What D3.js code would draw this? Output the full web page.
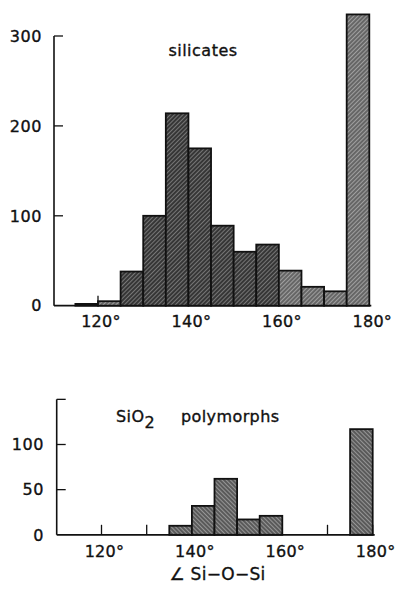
<!DOCTYPE html>
<html><head><meta charset="utf-8">
<script src="https://cdn.jsdelivr.net/npm/d3@7"></script>
<style>
html,body{margin:0;padding:0;background:#fff;}
svg text{font-family:"DejaVu Sans",sans-serif;fill:#111;stroke:#111;stroke-width:0.35px;}
</style></head>
<body><svg id="c" width="398" height="589"></svg>
<script>
// ---- data ----
const binStartsTop = [115,120,125,130,135,140,145,150,155,160,165,170,175];
const silicates    = [2,5,38,100,214,175,89,60,68,39,21,16,324];
const binStartsBot = [135,140,145,150,155,175];
const sio2         = [10,32,62,17,21,117];
const binWidth = 5;
const xTickLabels = [120,140,160,180];
const yTicksTop = [0,100,200,300];
const yTicksBot = [0,50,100];
const titleTop = "silicates";
const axisTitle = "\u2220 Si\u2212O\u2212Si";

const svg = d3.select("#c");
const defs = svg.append("defs");
function hatch(id, bg, line, angle){
  const p = defs.append("pattern").attr("id",id).attr("patternUnits","userSpaceOnUse")
    .attr("width",3).attr("height",3).attr("patternTransform",`rotate(${angle})`);
  p.append("rect").attr("width",3).attr("height",3).attr("fill",bg);
  p.append("line").attr("x1",0).attr("y1",0).attr("x2",0).attr("y2",3)
    .attr("stroke",line).attr("stroke-width",1);
}
hatch("hDark","#363636","#b5b5b5",45);
hatch("hMid","#666","#d8d8d8",45);
hatch("hBot","#5a5a5a","#d0d0d0",-45);

function panel(o){
  const g = svg.append("g");
  const x = d3.scaleLinear().domain([120,180]).range(o.xr);
  const y = d3.scaleLinear().domain([0,o.ymaxTick]).range(o.yr);
  g.append("line").attr("x1",o.axisX).attr("x2",o.axisX).attr("y1",y(0)).attr("y2",y(o.yTop))
    .attr("stroke","#111").attr("stroke-width",1.6);
  g.append("line").attr("x1",o.axisX).attr("x2",x(180)+2).attr("y1",y(0)).attr("y2",y(0))
    .attr("stroke","#111").attr("stroke-width",1.8);
  o.yTicks.filter(d=>d>0).forEach(d=>{
    g.append("line").attr("x1",o.axisX).attr("x2",o.axisX+9).attr("y1",y(d)).attr("y2",y(d))
      .attr("stroke","#111").attr("stroke-width",1.3);
  });
  if(o.topTick){
    g.append("line").attr("x1",o.axisX).attr("x2",o.axisX+9).attr("y1",y(o.yTop)).attr("y2",y(o.yTop))
      .attr("stroke","#111").attr("stroke-width",1.3);
  }
  o.yTicks.forEach(d=>{
    g.append("text").attr("x",o.labelX).attr("y",y(d)).attr("dy","0.36em")
      .attr("text-anchor","end").attr("font-size",16).attr("letter-spacing",0.6).text(d);
  });
  d3.range(120,181,10).forEach(d=>{
    g.append("line").attr("x1",x(d)).attr("x2",x(d)).attr("y1",y(0)).attr("y2",y(0)-10)
      .attr("stroke","#111").attr("stroke-width",1.3);
  });
  g.selectAll("rect.bar").data(o.starts.map((s,i)=>({s,v:o.vals[i]})).filter(d=>d.v>0))
    .enter().append("rect").attr("class","bar")
    .attr("x",d=>x(d.s)).attr("width",d=>x(d.s+binWidth)-x(d.s))
    .attr("y",d=>y(d.v)).attr("height",d=>y(0)-y(d.v))
    .attr("fill",d=>`url(#${o.fill(d.s)})`)
    .attr("stroke","#111").attr("stroke-width",1.8);
  xTickLabels.forEach(d=>{
    g.append("text").attr("x",x(d)+3).attr("y",o.xLabelY).attr("dy","0.36em")
      .attr("text-anchor","middle").attr("font-size",16).attr("letter-spacing",0.3).text(d+"\u00b0");
  });
  return {g,x,y};
}

panel({xr:[98,369.3], yr:[305.7,36], ymaxTick:300, yTop:300, axisX:54, labelX:42,
  yTicks:yTicksTop, topTick:false, starts:binStartsTop, vals:silicates,
  fill:s=>(s>=125&&s<160)?"hDark":"hMid", xLabelY:321});
svg.append("text").attr("x",203).attr("y",56).attr("text-anchor","middle")
  .attr("font-size",16).attr("letter-spacing",0.5).text(titleTop);

panel({xr:[101.5,372.7], yr:[534.8,444.5], ymaxTick:100, yTop:150, axisX:56.7, labelX:44,
  yTicks:yTicksBot, topTick:true, starts:binStartsBot, vals:sio2,
  fill:s=>"hBot", xLabelY:551});
const t2 = svg.append("text").attr("x",116).attr("y",421.5).attr("font-size",16).attr("letter-spacing",0.4);
t2.append("tspan").text("SiO");
t2.append("tspan").attr("dy",6).attr("font-size",16).text("2");
t2.append("tspan").attr("x",181).attr("y",421.5).text("polymorphs");
svg.append("text").attr("x",217.5).attr("y",574).attr("dy","0.36em").attr("text-anchor","middle")
  .attr("font-size",17).attr("letter-spacing",0.3).text(axisTitle);
</script></body></html>
